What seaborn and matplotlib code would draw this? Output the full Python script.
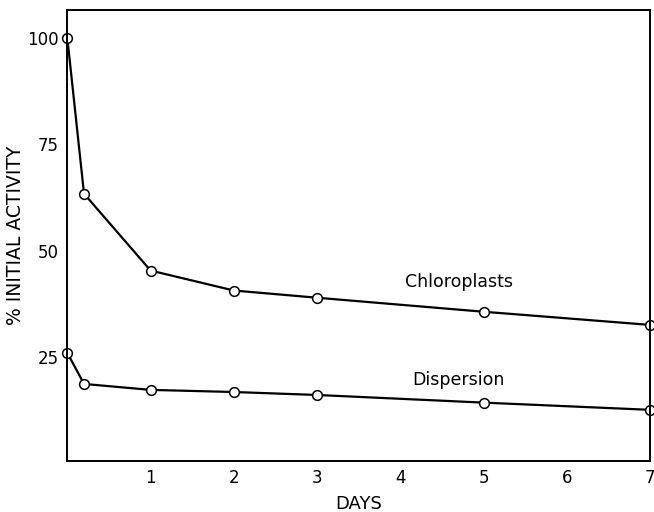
import pandas as pd
import seaborn as sns
import matplotlib
matplotlib.use("Agg")
import matplotlib.pyplot as plt

# Values
days = [0, 0.2, 1, 2, 3, 5, 7]
chloroplasts = [100, 63.4, 45.3, 40.6, 38.9, 35.6, 32.5]
dispersion = [25.9, 18.6, 17.2, 16.7, 16.0, 14.2, 12.5]

datos = pd.DataFrame({
    "days": days * 2,
    "activity": chloroplasts + dispersion,
    "prep": ["Chloroplasts"] * len(days) + ["Dispersion"] * len(days),
})

sns.set_style("white")
plt.rcParams["font.family"] = ["DejaVu Sans"]

fig, ax = plt.subplots(figsize=(6.54, 5.12), dpi=100)
sns.lineplot(
    data=datos, x="days", y="activity", units="prep", estimator=None,
    color="black", linewidth=1.6, marker="o", markersize=7,
    markerfacecolor="white", markeredgecolor="black", markeredgewidth=1.1,
    clip_on=False, ax=ax,
)

# Labels next to curves
ax.text(4.7, 42.5, "Chloroplasts", ha="center", va="center", fontsize=12.5, color="black")
ax.text(4.7, 19.6, "Dispersion", ha="center", va="center", fontsize=12.5, color="black")

ax.set_xlim(0, 7)
ax.set_ylim(0.5, 106.6)
ax.set_xticks([1, 2, 3, 4, 5, 6, 7])
ax.set_yticks([25, 50, 75, 100])
ax.tick_params(direction="in", length=6, width=1.2, labelsize=12, colors="black")
ax.tick_params(axis="x", pad=6)
ax.tick_params(axis="y", pad=6)
for sp in ax.spines.values():
    sp.set_visible(True)
    sp.set_color("black")
    sp.set_linewidth(1.4)

ax.set_xlabel("DAYS", fontsize=13, labelpad=6, color="black")
ax.set_ylabel("% INITIAL ACTIVITY", fontsize=13.5, labelpad=2, color="black")

plt.subplots_adjust(left=0.103, right=0.994, top=0.98, bottom=0.1)
fig.savefig("out.png", dpi=100)
